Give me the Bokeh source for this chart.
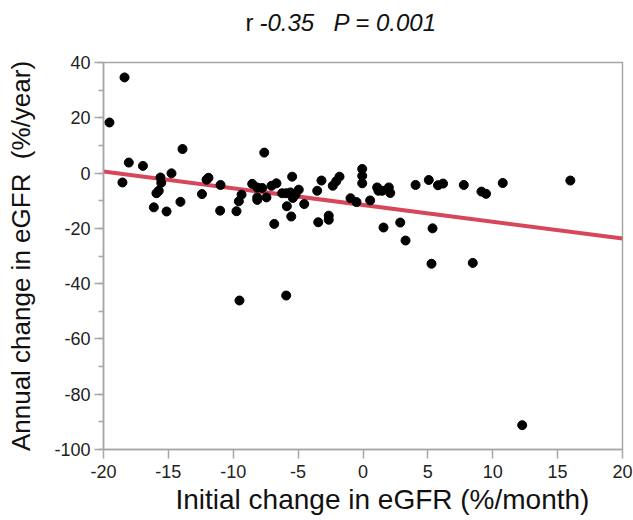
from bokeh.plotting import figure
from bokeh.models import Range1d, SingleIntervalTicker, NumeralTickFormatter
from bokeh.layouts import column
from bokeh.core.properties import value
from bokeh.embed import file_html
from bokeh.resources import INLINE

# Data
initial_change = [
    -19.54, -18.38, -18.54, -18.05, -16.96, -13.91, -14.76, -15.61, -15.55, -15.74,
    -15.92, -16.12, -15.14, -14.07, -12.41, -12.06, -11.91, -10.98, -11.01, -9.75,
    -9.57, -9.36, -8.54, -8.15, -7.77, -8.15, -8.15, -7.44, -7.61, -7.05,
    -6.67, -5.46, -6.23, -5.92, -5.59, -5.20, -4.95, -5.41, -5.87, -5.53,
    -6.84, -4.53, -3.53, -3.20, -3.45, -2.64, -2.64, -2.33, -2.07, -1.81,
    -0.96, -0.50, -0.06, -0.06, -0.06, 0.55, 1.09, 1.19, 1.48, 1.99,
    2.10, 1.58, 2.87, 3.28, 4.05, 5.07, 5.36, 5.28, 5.78, 6.17,
    7.77, 9.13, 9.48, 10.77, 8.46, 15.98, 12.27, -9.52, -5.92,
]
annual_change = [
    18.3, 34.6, -3.4, 3.8, 2.6, 8.7, -0.1, -1.6, -3.5, -6.4,
    -7.3, -12.4, -13.9, -10.4, -7.6, -2.4, -1.7, -4.3, -13.6, -13.8,
    -10.2, -7.8, -3.9, -5.2, -5.4, -8.8, -9.7, -8.8, 7.4, -4.6,
    -3.7, -1.3, -7.3, -7.3, -7.0, -7.8, -6.0, -9.0, -12.0, -15.7,
    -18.4, -11.2, -6.4, -2.7, -17.8, -15.4, -16.9, -4.6, -3.0, -1.3,
    -9.1, -10.5, 1.5, -1.0, -3.7, -9.9, -5.2, -6.4, -6.4, -5.2,
    -7.2, -19.7, -17.9, -24.4, -4.3, -2.5, -20.0, -32.8, -4.4, -3.8,
    -4.3, -6.7, -7.5, -3.6, -32.5, -2.7, -91.2, -46.1, -44.3,
]
fit_x = [-20, 20]
fit_y = [0.6, -23.7]

title_texts = ["r", "-0.35", "P = 0.001"]
title_styles = ["normal", "italic", "italic"]

x_tick_interval = 5
y_tick_interval = 20

FONT = "Liberation Sans"
AXIS_GRAY = "#a6a6a6"
TEXT_COLOR = "#111111"
W = 633
TITLE_H = 45
MAIN_H = 520 - TITLE_H
LEFT, RIGHT = 103, 11

# ---- title strip (mixed upright / italic text), pixel-like coordinates ----
t = figure(
    width=W, height=TITLE_H,
    x_range=Range1d(LEFT, W - RIGHT), y_range=Range1d(0, TITLE_H),
    x_axis_type=None, y_axis_type=None,
    output_backend="svg", toolbar_location=None,
    min_border_left=LEFT, min_border_right=RIGHT,
    min_border_top=0, min_border_bottom=0,
)
t.outline_line_color = None
t.xgrid.visible = False
t.ygrid.visible = False
t.background_fill_color = "white"
t.border_fill_color = "white"
title_x = [245, 259, 333]
for txt, xx, st in zip(title_texts, title_x, title_styles):
    t.text(x=[xx], y=[23.5], text=[txt],
           text_font=value(FONT), text_font_size=value("24px"),
           text_font_style=value(st), text_color=TEXT_COLOR,
           text_align="left", text_baseline="alphabetic")

# ---- main scatter plot ----
p = figure(
    width=W, height=MAIN_H,
    x_range=Range1d(-20, 20), y_range=Range1d(-100, 40),
    output_backend="svg", toolbar_location=None,
    min_border_left=LEFT, min_border_right=RIGHT,
    min_border_top=62 - TITLE_H, min_border_bottom=71,
)
p.background_fill_color = "white"
p.border_fill_color = "white"
p.outline_line_color = AXIS_GRAY
p.outline_line_width = 1.5
p.xgrid.visible = False
p.ygrid.visible = False

p.line(fit_x, fit_y, line_color="#d6475b", line_width=4)
p.scatter(initial_change, annual_change, size=9, color="black")

for ax in (p.xaxis[0], p.yaxis[0]):
    ax.axis_line_color = AXIS_GRAY
    ax.axis_line_width = 1.5
    ax.major_tick_line_color = AXIS_GRAY
    ax.major_tick_line_width = 1.5
    ax.minor_tick_line_color = AXIS_GRAY
    ax.minor_tick_line_width = 1.5
    ax.major_tick_in = 0
    ax.minor_tick_in = 0
    ax.major_label_text_font = FONT
    ax.major_label_text_font_size = "18px"
    ax.major_label_text_color = "#222222"
    ax.formatter = NumeralTickFormatter(format="0")
    ax.axis_label_text_font = FONT
    ax.axis_label_text_font_style = "normal"
    ax.axis_label_text_color = TEXT_COLOR

p.xaxis[0].ticker = SingleIntervalTicker(interval=x_tick_interval, num_minor_ticks=0)
p.xaxis[0].major_tick_out = 9
p.xaxis[0].minor_tick_out = 0
p.xaxis[0].major_label_standoff = 6
p.xaxis[0].axis_label = "\u00a0" * 5 + "Initial change in eGFR (%/month)"
p.xaxis[0].axis_label_text_font_size = "28px"
p.xaxis[0].axis_label_standoff = 3

p.yaxis[0].ticker = SingleIntervalTicker(interval=y_tick_interval, num_minor_ticks=2)
p.yaxis[0].major_tick_out = 9
p.yaxis[0].minor_tick_out = 5
p.yaxis[0].major_label_standoff = 4
p.yaxis[0].axis_label = "Annual change in eGFR\u00a0\u00a0(%/year)"
p.yaxis[0].axis_label_text_font_size = "26px"
p.yaxis[0].axis_label_standoff = 15

layout = column(t, p, spacing=0)
open("out.html", "w").write(file_html(layout, INLINE))
